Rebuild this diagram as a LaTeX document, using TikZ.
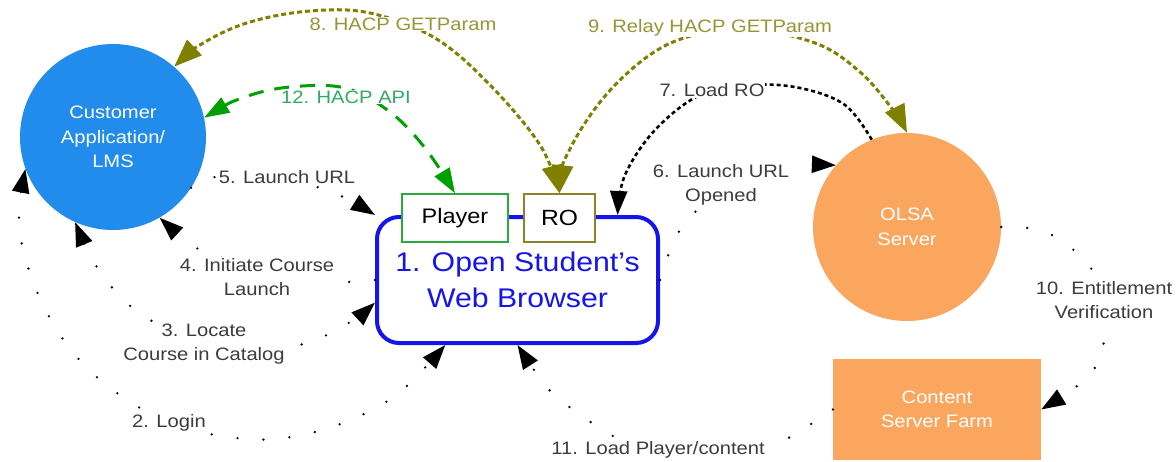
\documentclass[tikz,border=0pt]{standalone}
\usepackage{fontspec}
\setmainfont{Liberation Sans}[FakeStretch=1.12]
\usetikzlibrary{arrows.meta}
\definecolor{custblue}{RGB}{33,140,235}
\definecolor{olsaor}{RGB}{251,166,94}
\definecolor{brblue}{RGB}{20,20,235}
\definecolor{olivea}{RGB}{128,128,0}
\definecolor{olivet}{RGB}{150,150,55}
\definecolor{greena}{RGB}{0,160,0}
\definecolor{greent}{RGB}{50,170,100}
\definecolor{plgreen}{RGB}{40,170,60}
\definecolor{robox}{RGB}{140,130,40}
\definecolor{lblgray}{RGB}{60,60,60}
\begin{document}
\begin{tikzpicture}[x=1pt,y=-1pt,
  sfont/.style={font=\fontsize{18}{24.5}\selectfont},
  lbl/.style={sfont, fill=white, inner sep=1pt, text=lblgray, align=center},
  sparse/.style={line width=2.6pt, line cap=round, dash pattern=on 0pt off 26pt, black},
  blkdash/.style={line width=2.6pt, dash pattern=on 4pt off 3pt, black},
  olvdash/.style={line width=3pt, dash pattern=on 5pt off 3pt, olivea},
  grndash/.style={line width=3pt, dash pattern=on 15pt off 11pt, greena},
  btip/.tip={Triangle[length=24pt,width=17pt]},
  otip/.tip={Triangle[length=28pt,width=21pt]},
  gtip/.tip={Triangle[length=25pt,width=17pt]},
  smoothpath/.style={smooth, tension=0.6}
]
\useasboundingbox (0,0) rectangle (1176,461);

% main nodes
\node[circle, fill=custblue, minimum size=186pt, inner sep=0pt, text=white, sfont, align=center] (cust) at (113,137) {Customer\\Application/\\LMS};
\node[circle, fill=olsaor, minimum size=188pt, inner sep=0pt, text=white, sfont, align=center] (olsa) at (907,227) {OLSA\\Server};
\node[rectangle, fill=olsaor, minimum width=208pt, minimum height=101pt, inner sep=0pt, text=white, sfont, align=center] (farm) at (937,409.5) {Content\\Server Farm};
\node[draw=brblue, line width=4pt, rounded corners=22pt, minimum width=281pt, minimum height=126pt, text=brblue, font=\fontsize{27}{36}\selectfont, align=center] (browser) at (517.5,280) {1. Open Student's\\Web Browser};
\node[draw=plgreen, line width=1.5pt, fill=white, minimum width=106pt, minimum height=48pt, inner sep=0pt, font=\fontsize{21}{24}\selectfont] (player) at (455,218) {Player};
\node[draw=robox, line width=1.5pt, fill=white, minimum width=71pt, minimum height=48pt, inner sep=0pt, font=\fontsize{22}{24}\selectfont] (ro) at (559.5,218) {RO};

% 2. Login
\draw[sparse, btip-btip] plot[smoothpath] coordinates {(cust.200) (19,215) (25,257) (45,309) (76,356) (117,393) (175,425) (247,439) (302,435) (355,418) (400,392) (browser.222)};
% 3. Locate
\draw[sparse, btip-btip] plot[smoothpath] coordinates {(cust.246) (99,270) (137,311) (204,344) (293,346) (345,325) (browser.189)};
% 4. Initiate
\draw[sparse, -btip] plot[smoothpath] coordinates {(browser.west) (350,282) (300,274) (240,262) (200,250) (cust.-60)};
% 5. Launch URL
\draw[sparse, -btip] plot[smoothpath] coordinates {(cust.-33) (215,177) (270,179) (327,190) (browser.north west)};
% 6. Launch URL Opened
\draw[sparse, -btip] plot[smoothpath] coordinates {(browser.east) (680,230) (720,192) (775,168) (olsa.139)};
% 7. Load RO
\draw[blkdash, -btip] plot[smoothpath] coordinates {(olsa.112) (845,105) (800,88) (750,85) (700,95) (655,130) (625,175) (browser.33)};
% 8. HACP GETParam
\draw[olvdash, otip-otip] plot[smoothpath] coordinates {(cust.49) (205,42) (250,22) (310,11) (370,13) (435,38) (490,85) (540,145) (ro.north)};
% 9. Relay HACP GETParam
\draw[olvdash, otip-otip] plot[smoothpath] coordinates {(ro.north) (572,145) (615,85) (673,42) (745,30) (815,43) (860,72) (893,110) (olsa.90)};
% 12. HACP API
\draw[grndash, gtip-gtip] plot[smoothpath] coordinates {(cust.12) (245,97) (290,87) (345,88) (390,112) (425,148) (player.north)};
% 10. Entitlement Verification
\draw[sparse, -btip] plot[smoothpath] coordinates {(olsa.0) (1028,228) (1054,236) (1077,253) (1094,273) (1104,300) (1106,328) (1100,355) (1086,379) (farm.east)};
% 11. Load Player/content
\draw[sparse, -btip] plot[smoothpath] coordinates {(farm.west) (803,429) (778,442) (720,455) (658,452) (615,437) (568,406) (545,385) (browser.south)};

% labels
\node[lbl] (l2) at (169,423) {2. Login};
\node[lbl] (l3) at (204,344) {3. Locate\\Course in Catalog};
\node[lbl] (l4) at (257,277) {4. Initiate Course\\Launch};
\node[lbl] (l5) at (287,177) {5. Launch URL};
\node[lbl] (l6) at (721,185) {6. Launch URL\\Opened};
\node[lbl] (l7) at (712,90) {7. Load RO};
\node[lbl, text=olivet] (l8) at (403,24) {8. HACP GETParam};
\node[lbl, text=olivet] (l9) at (710,28) {9. Relay HACP GETParam};
\node[lbl] (l10) at (1104,300) {10. Entitlement\\Verification};
\node[lbl] (l11) at (658,450) {11. Load Player/content};
\node[lbl, text=greent] (l12) at (346,97) {12. HACP API};
\end{tikzpicture}
\end{document}
